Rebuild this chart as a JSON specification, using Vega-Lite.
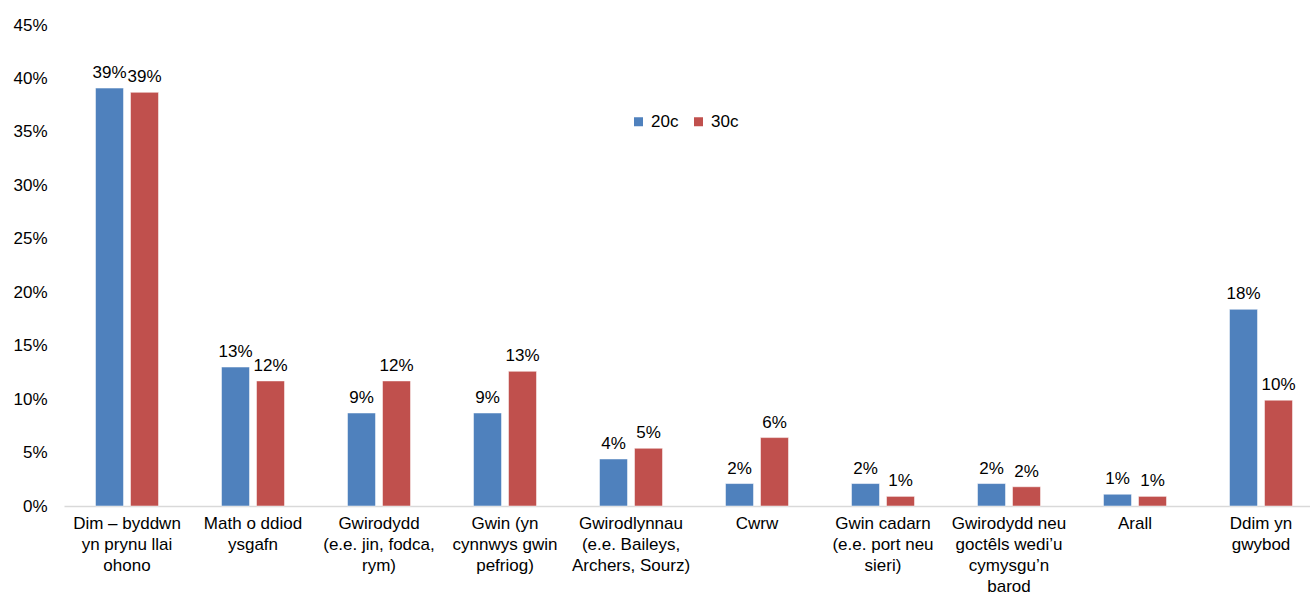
{
  "$schema": "https://vega.github.io/schema/vega-lite/v6.json",
  "width": 1246,
  "height": 481,
  "autosize": {"type": "none"},
  "padding": {"left": 64, "top": 25, "right": 0, "bottom": 91},
  "background": "white",
  "config": {
    "view": {"stroke": null},
    "font": "Liberation Sans"
  },
  "data": {
    "values": [
      {"cat": "Dim – byddwn|yn prynu llai|ohono", "series": "20c", "value": 0.391},
      {"cat": "Dim – byddwn|yn prynu llai|ohono", "series": "30c", "value": 0.387},
      {"cat": "Math o ddiod|ysgafn", "series": "20c", "value": 0.130},
      {"cat": "Math o ddiod|ysgafn", "series": "30c", "value": 0.117},
      {"cat": "Gwirodydd|(e.e. jin, fodca,|rym)", "series": "20c", "value": 0.087},
      {"cat": "Gwirodydd|(e.e. jin, fodca,|rym)", "series": "30c", "value": 0.117},
      {"cat": "Gwin (yn|cynnwys gwin|pefriog)", "series": "20c", "value": 0.087},
      {"cat": "Gwin (yn|cynnwys gwin|pefriog)", "series": "30c", "value": 0.126},
      {"cat": "Gwirodlynnau|(e.e. Baileys,|Archers, Sourz)", "series": "20c", "value": 0.044},
      {"cat": "Gwirodlynnau|(e.e. Baileys,|Archers, Sourz)", "series": "30c", "value": 0.054},
      {"cat": "Cwrw", "series": "20c", "value": 0.021},
      {"cat": "Cwrw", "series": "30c", "value": 0.064},
      {"cat": "Gwin cadarn|(e.e. port neu|sieri)", "series": "20c", "value": 0.021},
      {"cat": "Gwin cadarn|(e.e. port neu|sieri)", "series": "30c", "value": 0.009},
      {"cat": "Gwirodydd neu|goctêls wedi’u|cymysgu’n|barod", "series": "20c", "value": 0.021},
      {"cat": "Gwirodydd neu|goctêls wedi’u|cymysgu’n|barod", "series": "30c", "value": 0.018},
      {"cat": "Arall", "series": "20c", "value": 0.011},
      {"cat": "Arall", "series": "30c", "value": 0.009},
      {"cat": "Ddim yn|gwybod", "series": "20c", "value": 0.184},
      {"cat": "Ddim yn|gwybod", "series": "30c", "value": 0.099}
    ]
  },
  "encoding": {
    "x": {
      "field": "cat",
      "type": "nominal",
      "sort": null,
      "title": null,
      "scale": {"paddingInner": 0.5, "paddingOuter": 0.25, "range": [0, 1260]},
      "axis": {
        "labelExpr": "split(datum.label, '|')",
        "labelAngle": 0,
        "labelFontSize": 17,
        "labelColor": "#000000",
        "labelLineHeight": 21,
        "labelPadding": 9,
        "labelBaseline": "top",
        "ticks": false,
        "domainColor": "#d9d9d9",
        "domainWidth": 1.5,
        "labelLimit": 0
      }
    },
    "xOffset": {"field": "series", "type": "nominal", "scale": {"paddingInner": 0.2}},
    "y": {
      "field": "value",
      "type": "quantitative",
      "title": null,
      "scale": {"domain": [0, 0.45]},
      "axis": {
        "format": ".0%",
        "values": [0, 0.05, 0.1, 0.15, 0.2, 0.25, 0.3, 0.35, 0.4, 0.45],
        "grid": false,
        "domain": false,
        "ticks": false,
        "labelFontSize": 17,
        "labelColor": "#000000",
        "labelPadding": 17
      }
    }
  },
  "layer": [
    {
      "mark": {"type": "bar", "stroke": "white", "strokeWidth": 0.5},
      "encoding": {
        "color": {
          "field": "series",
          "type": "nominal",
          "scale": {"domain": ["20c", "30c"], "range": ["#4F81BD", "#C0504D"]},
          "legend": {
            "title": null,
            "orient": "none",
            "legendX": 566,
            "legendY": 88,
            "direction": "horizontal",
            "symbolType": "square",
            "symbolSize": 81,
            "symbolStrokeWidth": 0,
            "labelFontSize": 17,
            "labelColor": "#000000",
            "columnPadding": 11,
            "labelOffset": 4
          }
        }
      }
    },
    {
      "mark": {"type": "text", "baseline": "bottom", "dy": -6, "fontSize": 17, "color": "#000000"},
      "encoding": {
        "text": {"field": "value", "type": "quantitative", "format": ".0%"}
      }
    }
  ]
}
